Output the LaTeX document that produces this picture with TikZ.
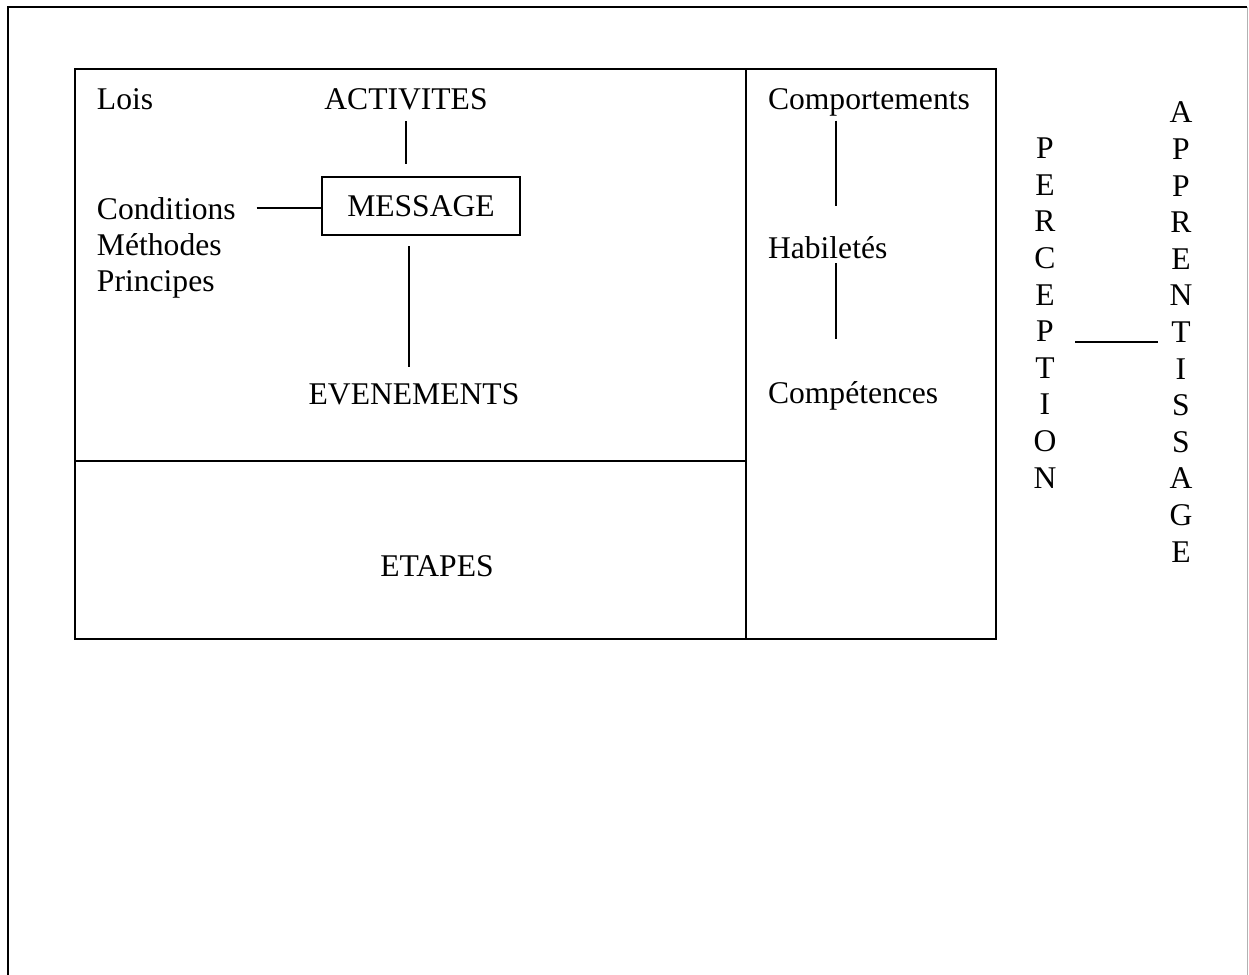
\documentclass[tikz,border=0pt]{standalone}
\usepackage{fontspec}
\setmainfont{Liberation Serif}
\begin{document}
\begin{tikzpicture}[x=0.5pt,y=-0.5pt,line width=1pt,
        every node/.style={inner sep=0pt,font=\fontsize{15.8}{18.3}\selectfont},
        lettres/.style={align=center,anchor=north},
        lien/.style={line width=0.9pt}]
        \useasboundingbox (0,0) rectangle (1249,975);
        % cadres
        \draw (8,975) -- (8,7) -- (1247,7);
        \draw[black!30,line width=0.5pt] (1247.5,7) -- (1247.5,975);
        \draw (75,69) rectangle (996,639);
        \draw (746,69) -- (746,639);
        \draw (75,461) -- (746,461);

        \node[anchor=base west] (lois) at (96,109){Lois};
        \node[anchor=base] (act) at (406,109){ACTIVITES};
        \node[draw,minimum width=99pt,minimum height=29pt] (msg) at (421,206){MESSAGE};
        \node[anchor=base west] (cond) at (96,219){Conditions};
        \node[anchor=base west] (meth) at (96,255){Méthodes};
        \node[anchor=base west] (princ) at (96,291){Principes};
        \node[anchor=base] (even) at (414,404){EVENEMENTS};
        \node[anchor=base] (etap) at (437,576){ETAPES};
        \node[anchor=base west] (compo) at (767,109){Comportements};
        \node[anchor=base west] (habil) at (767,258){Habiletés};
        \node[anchor=base west] (compe) at (767,403){Compétences};
        \node[lettres] (perc) at (1045,137){P\\E\\R\\C\\E\\P\\T\\I\\O\\N};
        \node[lettres] (appr) at (1181,101){A\\P\\P\\R\\E\\N\\T\\I\\S\\S\\A\\G\\E};
        \coordinate (pa) at (1116,342);

        \path [draw,lien,shorten <=5.5pt,shorten >=6pt] (act.south) to (act.south |- msg.north);
        \path [draw,lien,shorten <=10pt] (cond.east) to (cond.east -| msg.west);
        \path [draw,lien,shorten <=5pt,shorten >=7.5pt] ([xshift=-2.5pt]even.north |- msg.south) to ([xshift=-2.5pt]even.north);
        \path [draw,lien,shorten <=2pt,shorten >=14.5pt] ([xshift=34.5pt]compo.south west) to ([xshift=34.5pt]habil.north west);
        \path [draw,lien,shorten <=2pt,shorten >=20.5pt] ([xshift=34.5pt]habil.south west) to ([xshift=34.5pt]compe.north west);
        \path [draw,lien,shorten <=8.8pt,shorten >=5.3pt] (perc.east |- pa) to (appr.west |- pa);
    \end{tikzpicture}
\end{document}
